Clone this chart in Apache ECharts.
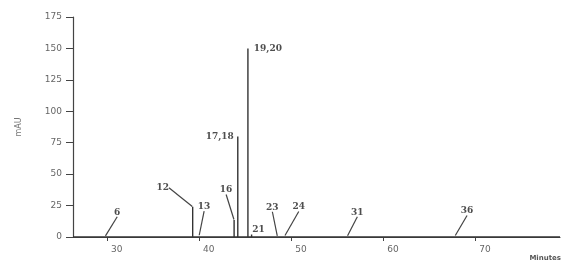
<!DOCTYPE html>
<html>
<head>
<meta charset="utf-8">
<script src="https://cdn.jsdelivr.net/npm/echarts@6/dist/echarts.min.js"></script>
<style>
  html, body { margin: 0; padding: 0; background: #fff; }
  #chart { width: 563px; height: 263px; }
</style>
</head>
<body>
<div id="chart"></div>
<script>
// peak numbers, retention times (min) and heights (mAU)
const peakNames = ['6', '12', '13', '16', '17,18', '19,20', '21', '23', '24', '31', '36'];
const peakTimes = [29.8, 39.3, 40.0, 43.8, 44.2, 45.3, 45.7, 48.5, 49.3, 56.1, 67.8];
const peakHeights = [0.6, 24, 1, 13.5, 80, 150, 2, 0.6, 0.8, 0.6, 0.8];
const timeTicks = [30, 40, 50, 60, 70];
const timeMin = 26.3;
const timeMax = 79.2;

// where each peak label sits relative to its peak (px), and whether it has a leader
const labelShift = [[12, -24], [-30, -19], [5, -29], [-8, -30], [-18, 0], [20, 0],
  [7, -5], [-5, -29], [14, -29], [10, -24], [12, -25]];
const hasLeader = [true, true, true, true, false, false, false, true, true, true, true];

const chart = echarts.init(document.getElementById('chart'));

const trace = [[timeMin, 0]];
peakTimes.forEach((t, i) => {
  trace.push([t, 0], [t, peakHeights[i]], [t, 0]);
});
trace.push([timeMax, 0]);

const marks = peakTimes.map((t, i) => ({
  value: [t, peakHeights[i]],
  name: peakNames[i],
  labelLine: { show: hasLeader[i] },
}));

const option = {
  backgroundColor: '#fff',
  animation: false,
  grid: { left: 73, right: 3, top: 17, bottom: 26 },
  xAxis: {
    type: 'value',
    min: timeMin,
    max: timeMax,
    offset: 5,
    splitLine: { show: false },
    axisLine: { lineStyle: { color: '#444', width: 1.2 } },
    axisTick: { length: 4, customValues: timeTicks, lineStyle: { color: '#444' } },
    axisLabel: {
      customValues: timeTicks,
      align: 'left',
      margin: 3,
      padding: [0, 0, 0, 4],
      fontFamily: 'DejaVu Sans',
      fontSize: 9,
      color: '#666',
    },
  },
  yAxis: {
    type: 'value',
    min: 0,
    max: 175,
    interval: 25,
    name: 'mAU',
    nameLocation: 'middle',
    nameRotate: 90,
    nameGap: 50,
    nameTextStyle: { fontFamily: 'DejaVu Sans', fontSize: 8, color: '#777' },
    splitLine: { show: false },
    axisLine: { lineStyle: { color: '#444', width: 1.2 } },
    axisTick: { length: 7, lineStyle: { color: '#444' } },
    axisLabel: { margin: 11, fontFamily: 'DejaVu Sans', fontSize: 9, color: '#666' },
  },
  graphic: [{
    type: 'text',
    right: 2,
    bottom: 1,
    style: { text: 'Minutes', font: 'bold 7px DejaVu Sans', fill: '#555' },
  }],
  series: [
    {
      type: 'line',
      data: trace,
      showSymbol: false,
      lineStyle: { color: '#333', width: 1.4 },
      z: 2,
    },
    {
      type: 'scatter',
      data: marks,
      symbolSize: 1,
      itemStyle: { color: 'rgba(0,0,0,0)' },
      label: {
        show: true,
        position: 'inside',
        formatter: (p) => p.name,
        fontFamily: 'DejaVu Serif',
        fontWeight: 'bold',
        fontSize: 9,
        color: '#222',
      },
      labelLine: { show: true, length2: 0, lineStyle: { color: '#444', width: 1.2 } },
      labelLayout: (p) => ({ dx: labelShift[p.dataIndex][0], dy: labelShift[p.dataIndex][1] }),
      z: 3,
    },
  ],
};

chart.setOption(option);
</script>
</body>
</html>
